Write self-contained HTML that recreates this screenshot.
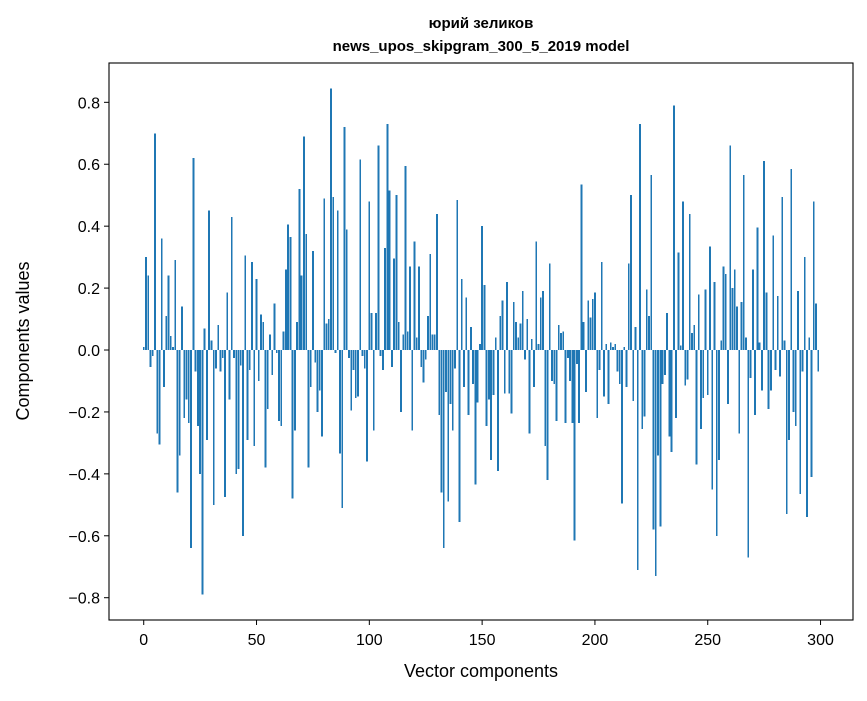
<!DOCTYPE html>
<html><head><meta charset="utf-8"><style>
body{margin:0;background:#fff;}
svg text{font-family:"Liberation Sans","DejaVu Sans",sans-serif;fill:#000;}
</style></head><body>
<svg id="chart" width="867" height="696" viewBox="0 0 867 696" xmlns="http://www.w3.org/2000/svg">
<rect width="867" height="696" fill="#fff"/>
<text x="481" y="28" text-anchor="middle" font-size="15" font-weight="bold">юрий зеликов</text>
<text x="481" y="51" text-anchor="middle" font-size="15" font-weight="bold">news_upos_skipgram_300_5_2019 model</text>
<g id="bars" shape-rendering="crispEdges"></g>
<g id="axes"></g>
<text x="481" y="677" text-anchor="middle" font-size="18">Vector components</text>
<text transform="translate(29,341) rotate(-90)" text-anchor="middle" font-size="18">Components values</text>
</svg>
<script>
const values = [
0.01,0.30,0.24,-0.055,-0.02,0.70,-0.27,-0.305,0.36,-0.12,
0.11,0.24,0.045,0.01,0.29,-0.46,-0.34,0.14,-0.22,-0.16,
-0.235,-0.64,0.62,-0.07,-0.245,-0.40,-0.79,0.07,-0.29,0.45,
0.03,-0.50,-0.06,0.08,-0.07,-0.025,-0.475,0.185,-0.16,0.43,
-0.025,-0.40,-0.385,-0.05,-0.60,0.305,-0.29,-0.065,0.285,-0.31,
0.23,-0.10,0.115,0.09,-0.38,-0.19,0.05,-0.08,0.15,-0.01,
-0.23,-0.245,0.06,0.26,0.405,0.365,-0.48,-0.26,0.09,0.52,
0.24,0.69,0.375,-0.38,-0.12,0.32,-0.04,-0.20,-0.13,-0.28,
0.49,0.085,0.10,0.845,0.495,-0.01,0.45,-0.335,-0.51,0.72,
0.39,-0.025,-0.195,-0.065,-0.155,-0.15,0.615,-0.02,-0.06,-0.36,
0.48,0.12,-0.26,0.12,0.66,-0.02,-0.065,0.33,0.73,0.515,
-0.055,0.295,0.50,0.09,-0.20,0.05,0.595,0.06,0.27,-0.26,
0.35,0.04,0.27,-0.055,-0.105,-0.03,0.11,0.31,0.05,0.05,
0.44,-0.21,-0.46,-0.64,-0.135,-0.49,-0.175,-0.26,-0.06,0.485,
-0.555,0.23,-0.12,0.17,-0.21,0.075,-0.11,-0.435,-0.17,0.02,
0.40,0.21,-0.245,-0.16,-0.355,-0.145,0.04,-0.39,0.11,0.16,
-0.14,0.22,-0.14,-0.205,0.155,0.09,0.04,0.085,0.19,-0.03,
0.10,-0.27,0.035,-0.12,0.35,0.02,0.17,0.19,-0.31,-0.42,
0.28,-0.10,-0.11,-0.23,0.08,0.055,0.06,-0.235,-0.025,-0.10,
-0.235,-0.615,-0.045,-0.235,0.535,0.09,-0.135,0.16,0.105,0.165,
0.185,-0.22,-0.065,0.285,-0.15,0.02,-0.175,0.025,0.01,0.02,
-0.07,-0.11,-0.495,0.01,-0.12,0.28,0.50,-0.165,0.075,-0.71,
0.73,-0.255,-0.215,0.195,0.11,0.565,-0.58,-0.73,-0.34,-0.57,
-0.11,-0.08,0.12,-0.28,-0.33,0.79,-0.22,0.315,0.015,0.48,
-0.115,-0.095,0.44,0.055,0.08,-0.37,0.18,-0.255,-0.155,0.195,
-0.145,0.335,-0.45,0.22,-0.60,-0.355,0.03,0.27,0.245,-0.175,
0.66,0.20,0.26,0.14,-0.27,0.155,0.565,0.04,-0.67,-0.09,
0.26,-0.21,0.395,0.025,-0.13,0.61,0.185,-0.19,-0.13,0.37,
-0.065,0.175,-0.085,0.495,0.03,-0.53,-0.29,0.585,-0.20,-0.245,
0.19,-0.465,-0.07,0.30,-0.54,0.04,-0.41,0.48,0.15,-0.07
];
const xTicks = [0,50,100,150,200,250,300];
const yTicks = [-0.8,-0.6,-0.4,-0.2,0.0,0.2,0.4,0.6,0.8];

const L=109,R=853,T=63,B=620;
const xmin=-15.39,xmax=314.39,ymin=-0.872,ymax=0.927;
function X(v){return L+(v-xmin)/(xmax-xmin)*(R-L);}
function Y(v){return B-(v-ymin)/(ymax-ymin)*(B-T);}
const NS="http://www.w3.org/2000/svg";
const bars=document.getElementById('bars');
const bw=0.8;
values.forEach((v,i)=>{
  const r=document.createElementNS(NS,'rect');
  
  
  const x0=X(i-bw/2),x1=X(i+bw/2);
  const y0=Y(Math.max(v,0)),y1=Y(Math.min(v,0));
  r.setAttribute('x',x0);r.setAttribute('width',x1-x0);
  r.setAttribute('y',y0);r.setAttribute('height',Math.max(y1-y0,0.01));
  r.setAttribute('fill','#1f77b4');
  bars.appendChild(r);
});
const axes=document.getElementById('axes');
const frame=document.createElementNS(NS,'rect');


frame.setAttribute('x',L);frame.setAttribute('y',T);frame.setAttribute('width',R-L);frame.setAttribute('height',B-T);
frame.setAttribute('fill','none');frame.setAttribute('stroke','#000');frame.setAttribute('stroke-width','1.1');
axes.appendChild(frame);
xTicks.forEach(t=>{
  const x=X(t);
  const l=document.createElementNS(NS,'line');
  
  
  l.setAttribute('x1',x);l.setAttribute('x2',x);l.setAttribute('y1',B);l.setAttribute('y2',B+5);
  l.setAttribute('stroke','#000');
  axes.appendChild(l);
  const tx=document.createElementNS(NS,'text');
  
  
  tx.setAttribute('x',x);tx.setAttribute('y',B+25);tx.setAttribute('text-anchor','middle');tx.setAttribute('font-size','16');
  tx.textContent=String(t);
  axes.appendChild(tx);
});
yTicks.forEach(t=>{
  const y=Y(t);
  const l=document.createElementNS(NS,'line');
  
  
  l.setAttribute('x1',L-5);l.setAttribute('x2',L);l.setAttribute('y1',y);l.setAttribute('y2',y);
  l.setAttribute('stroke','#000');
  axes.appendChild(l);
  const tx=document.createElementNS(NS,'text');
  
  
  tx.setAttribute('x',L-9);tx.setAttribute('y',y+6);tx.setAttribute('text-anchor','end');tx.setAttribute('font-size','16');
  tx.textContent=(t<0?'\u2212':'')+Math.abs(t).toFixed(1);
  axes.appendChild(tx);
});
</script>
</body></html>
